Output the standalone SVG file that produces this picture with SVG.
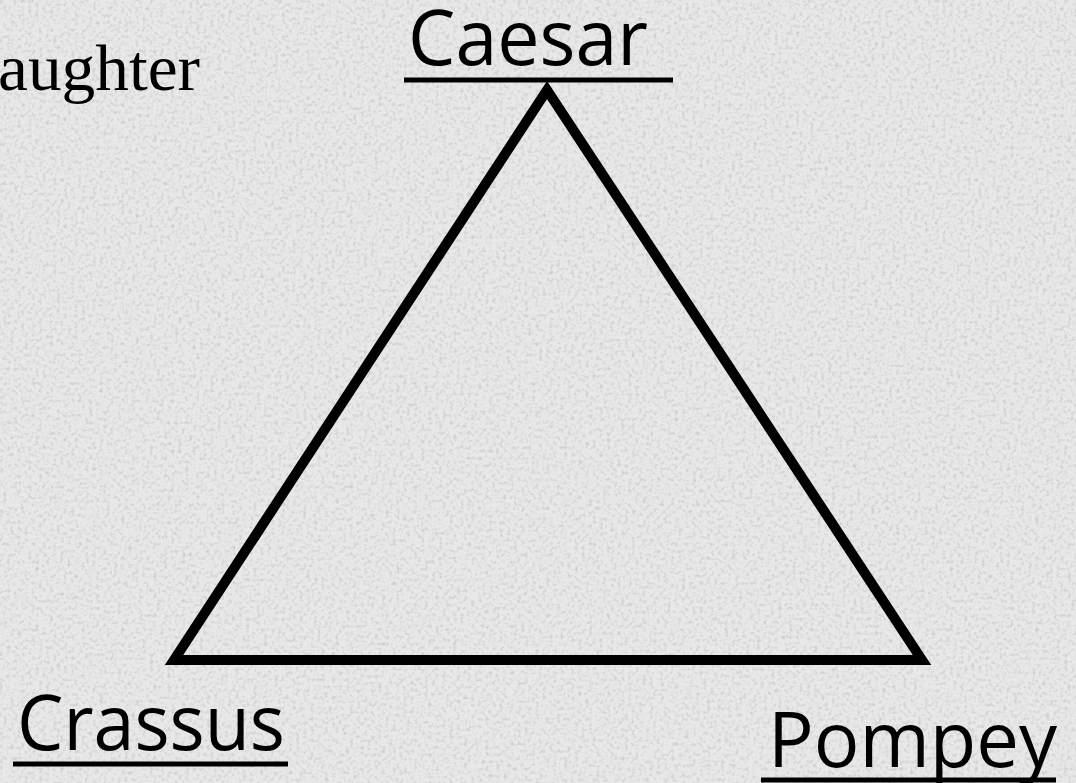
<svg xmlns="http://www.w3.org/2000/svg" width="1076" height="783" viewBox="0 0 1076 783">
  <defs>
    <filter id="paper" x="0" y="0" width="100%" height="100%">
      <feTurbulence type="fractalNoise" baseFrequency="0.28" numOctaves="2" seed="4" result="n"/>
      <feColorMatrix in="n" type="matrix" values="0 0 0 0 0  0 0 0 0 0  0 0 0 0 0  0 0 0 -1.6 0.85" result="a"/>
      <feFlood flood-color="#a0a0a0" result="c"/>
      <feComposite in="c" in2="a" operator="in"/>
    </filter>
    <style>
      .lbl { font-family: "Open Sans", "Liberation Sans", sans-serif; font-size: 77px; fill: #000; }
      .ser { font-family: "Liberation Serif", "Times New Roman", serif; font-size: 66px; fill: #000; }
      .ul { stroke: #000; stroke-width: 5; }
      .edge { fill: none; stroke: #000; stroke-width: 10; stroke-linejoin: miter; }
    </style>
  </defs>
  <rect width="1076" height="783" fill="#e8e8e8"/>
  <rect width="1076" height="783" filter="url(#paper)" opacity="0.6"/>

  <text class="ser" x="-2" y="90" textLength="202" lengthAdjust="spacingAndGlyphs">aughter</text>

  <g id="connectors">
    <path class="edge" d="M547,90 L922,660 L174,660 Z"/>
  </g>

  <g id="caesar">
    <text class="lbl" x="408" y="65" textLength="240" lengthAdjust="spacingAndGlyphs">Caesar</text>
    <line class="ul" x1="404" y1="80" x2="673" y2="80"/>
  </g>
  <g id="crassus">
    <text class="lbl" x="17" y="750" textLength="268" lengthAdjust="spacingAndGlyphs">Crassus</text>
    <line class="ul" x1="13" y1="764" x2="288" y2="764"/>
  </g>
  <g id="pompey">
    <text class="lbl" x="768" y="767" textLength="289" lengthAdjust="spacingAndGlyphs">Pompey</text>
    <line class="ul" x1="761" y1="780" x2="1056" y2="780"/>
  </g>
</svg>
